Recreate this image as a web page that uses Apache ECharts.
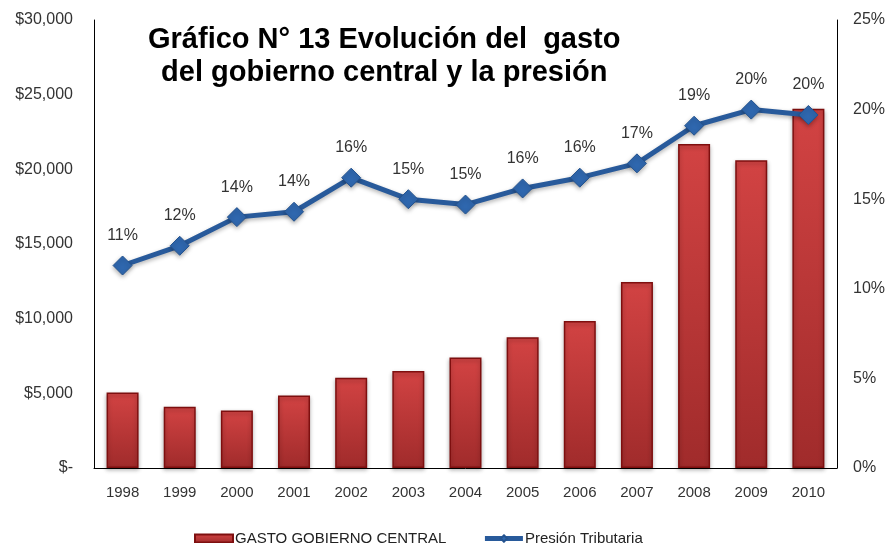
<!DOCTYPE html>
<html>
<head>
<meta charset="utf-8">
<script src="https://cdn.jsdelivr.net/npm/echarts@6/dist/echarts.min.js"></script>
<style>html,body{margin:0;padding:0;background:#fff}#c{width:888px;height:543px}</style>
</head>
<body>
<div id="c"></div>
<script>
const years = ['1998','1999','2000','2001','2002','2003','2004','2005','2006','2007','2008','2009','2010'];
const gasto = [5050, 4100, 3850, 4850, 6050, 6500, 7400, 8750, 9850, 12450, 21700, 20600, 24050];
const presion = [11.3, 12.4, 14.0, 14.3, 16.2, 15.0, 14.7, 15.6, 16.2, 17.0, 19.1, 20.0, 19.7];
const leftTicks = [0, 5000, 10000, 15000, 20000, 25000, 30000];
const rightTicks = [0, 5, 10, 15, 20, 25];
const titleLines = ['Gráfico N° 13 Evolución del  gasto', 'del gobierno central y la presión'];
const seriesNames = ['GASTO GOBIERNO CENTRAL', 'Presión Tributaria'];

const FONT = '"Liberation Sans", Arial, sans-serif';
const chart = echarts.init(document.getElementById('c'));
chart.setOption({
  animation: false,
  backgroundColor: '#fff',
  textStyle: { fontFamily: FONT },
  grid: { left: 94, right: 51, top: 20, bottom: 75, containLabel: false },
  graphic: [{
    type: 'text', left: 148, top: 23,
    style: {
      text: titleLines.join('\n'), font: 'bold 29px ' + FONT, fill: '#000',
      textAlign: 'center', lineHeight: 33
    }
  }],
  legend: {
    left: 189, top: 526, itemWidth: 38, itemHeight: 8, itemGap: 36,
    textStyle: { fontSize: 15, color: '#222', fontFamily: FONT, padding: [0,0,0,-3] },
    data: [
      { name: seriesNames[0], icon: 'rect' },
      { name: seriesNames[1], lineStyle: { width: 5, color: '#285A9B' } }
    ]
  },
  xAxis: {
    type: 'category', data: years,
    axisLine: { show: true, lineStyle: { color: '#000', width: 1 } },
    axisTick: { show: false },
    axisLabel: { fontSize: 15, color: '#333', margin: 17, fontFamily: FONT }
  },
  yAxis: [{
    type: 'value', min: leftTicks[0], max: leftTicks[leftTicks.length-1], interval: 5000,
    axisLine: { show: true, lineStyle: { color: '#000', width: 1 } },
    axisTick: { show: false }, splitLine: { show: false },
    axisLabel: { fontSize: 16, color: '#333', margin: 21, fontFamily: FONT,
      formatter: v => v === 0 ? '$-' : '$' + v.toLocaleString('en-US') }
  }, {
    type: 'value', min: rightTicks[0], max: rightTicks[rightTicks.length-1], interval: 5,
    position: 'right',
    axisLine: { show: true, lineStyle: { color: '#000', width: 1 } },
    axisTick: { show: false }, splitLine: { show: false },
    axisLabel: { fontSize: 16, color: '#333', margin: 16, fontFamily: FONT, formatter: '{value}%' }
  }],
  series: [{
    name: seriesNames[0], type: 'bar', data: gasto, yAxisIndex: 0,
    barCategoryGap: '44%',
    itemStyle: {
      color: new echarts.graphic.LinearGradient(0, 0, 0, 1, [
        { offset: 0, color: '#D24343' }, { offset: 1, color: '#A02B2B' }
      ]),
      borderColor: '#7E0F0F', borderWidth: 1.5,
      shadowColor: 'rgba(0,0,0,0.3)', shadowBlur: 4, shadowOffsetY: 2
    }
  }, {
    name: seriesNames[1], type: 'line', data: presion, yAxisIndex: 1,
    symbol: 'diamond', symbolSize: 19,
    lineStyle: { color: '#285A9B', width: 5, shadowColor: 'rgba(0,0,0,0.3)', shadowBlur: 4, shadowOffsetY: 2 },
    itemStyle: { color: '#2F67AE', borderColor: '#24538F', borderWidth: 1,
      shadowColor: 'rgba(0,0,0,0.3)', shadowBlur: 4, shadowOffsetY: 2 },
    label: { show: true, position: 'top', distance: 12, fontSize: 16, color: '#333', fontFamily: FONT,
      formatter: p => Math.round(p.value) + '%' },
    z: 5
  }]
});
</script>
</body>
</html>
